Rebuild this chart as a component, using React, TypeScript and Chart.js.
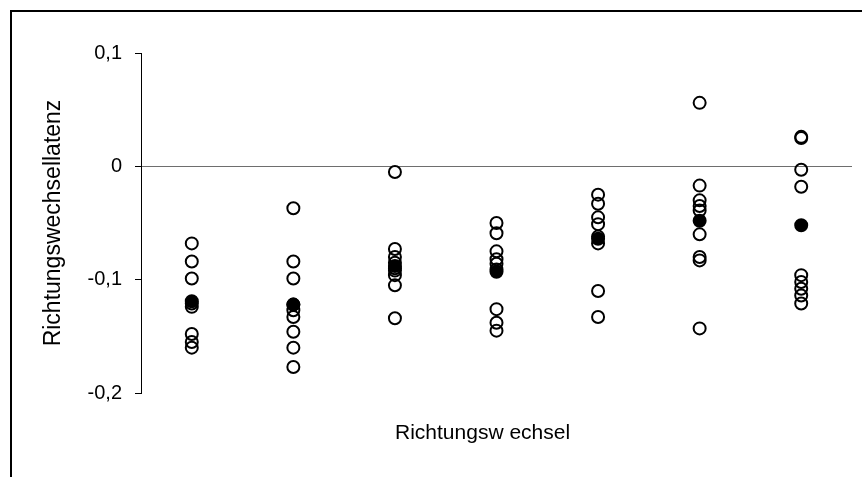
import { useEffect, useRef } from "react";
import { Chart, registerables } from "chart.js";

Chart.register(...registerables);

// Positions of the seven direction-change groups on the x axis
const groupPositions = [1, 2, 3, 4, 5, 6, 7];

// Individual latencies per group (open circles)
const group1 = [-0.068, -0.084, -0.099, -0.121, -0.124, -0.148, -0.155, -0.160];
const group2 = [-0.037, -0.084, -0.099, -0.122, -0.127, -0.133, -0.146, -0.160, -0.177];
const group3 = [-0.005, -0.073, -0.080, -0.085, -0.090, -0.092, -0.096, -0.105, -0.134];
const group4 = [-0.050, -0.059, -0.075, -0.082, -0.086, -0.091, -0.126, -0.138, -0.145];
const group5 = [-0.025, -0.033, -0.045, -0.051, -0.062, -0.068, -0.110, -0.133];
const group6 = [0.056, -0.017, -0.030, -0.035, -0.039, -0.060, -0.080, -0.083, -0.143];
const group7 = [0.026, 0.025, -0.003, -0.018, -0.096, -0.102, -0.108, -0.114, -0.121];

// Group means (filled circles)
const groupMeans = [-0.119, -0.122, -0.088, -0.093, -0.064, -0.048, -0.052];

const yTickValues = [0.1, 0, -0.1, -0.2];
const yTickLabels = ["0,1", "0", "-0,1", "-0,2"];

const yAxisTitle = "Richtungswechsellatenz";
const xAxisTitle = "Richtungsw echsel";

const FONT = '"Liberation Sans", Arial, Helvetica, sans-serif';

const groups = [group1, group2, group3, group4, group5, group6, group7];

// Caption under the plot area
const xCaptionPlugin = {
  id: "xCaption",
  afterDraw(chart: any) {
    const { ctx, chartArea } = chart;
    ctx.save();
    ctx.font = `21px ${FONT}`;
    ctx.fillStyle = "#000";
    ctx.textAlign = "left";
    ctx.textBaseline = "middle";
    ctx.fillText(xAxisTitle, chartArea.left + 254, chartArea.bottom + 40.5);
    ctx.restore();
  },
};

export default function App() {
  const canvasRef = useRef<HTMLCanvasElement | null>(null);

  useEffect(() => {
    if (!canvasRef.current) return;

    const individual = groups.flatMap((values, gi) =>
      values.map((v) => ({ x: groupPositions[gi], y: v }))
    );
    const means = groupMeans.map((v, gi) => ({ x: groupPositions[gi], y: v }));

    const chart = new Chart(canvasRef.current, {
      type: "scatter",
      data: {
        datasets: [
          {
            label: "Mittelwert",
            data: means,
            pointRadius: 6,
            pointBorderWidth: 2,
            pointBackgroundColor: "#000",
            pointBorderColor: "#000",
          },
          {
            label: "Einzelwerte",
            data: individual,
            pointRadius: 6,
            pointBorderWidth: 2,
            pointBackgroundColor: "rgba(0,0,0,0)",
            pointBorderColor: "#000",
          },
        ],
      },
      options: {
        animation: false,
        responsive: false,
        events: [],
        layout: { padding: { left: 0, top: 41, right: 10, bottom: 84 } },
        plugins: {
          legend: { display: false },
          tooltip: { enabled: false },
        },
        scales: {
          x: {
            type: "linear",
            min: 0.5,
            max: 7.5,
            display: false,
          },
          y: {
            type: "linear",
            min: -0.2,
            max: 0.1,
            afterBuildTicks: (scale: any) => {
              scale.ticks = yTickValues.map((v) => ({ value: v }));
            },
            afterFit: (scale: any) => {
              scale.width = 129;
            },
            border: { display: true, color: "#000", width: 1 },
            grid: {
              drawOnChartArea: true,
              color: (ctx: any) =>
                ctx.tick && ctx.tick.value === 0 ? "#6e6e6e" : "rgba(0,0,0,0)",
              tickColor: "#000",
              tickLength: 6,
              lineWidth: 1,
            },
            ticks: {
              padding: 13,
              color: "#000",
              font: { family: FONT, size: 20 },
              callback: (_v: any, index: number) => yTickLabels[index],
            },
            title: {
              display: true,
              text: yAxisTitle,
              color: "#000",
              font: { family: FONT, size: 23 },
              padding: { top: 28, bottom: 0 },
            },
          },
        },
      },
      plugins: [xCaptionPlugin],
    });

    return () => chart.destroy();
  }, []);

  return (
    <div
      style={{
        position: "absolute",
        left: 10,
        top: 10,
        width: 852,
        height: 467,
        boxSizing: "border-box",
        borderTop: "2px solid #000",
        borderLeft: "2px solid #000",
        background: "#fff",
      }}
    >
      <canvas ref={canvasRef} width={850} height={465} style={{ display: "block" }} />
    </div>
  );
}
